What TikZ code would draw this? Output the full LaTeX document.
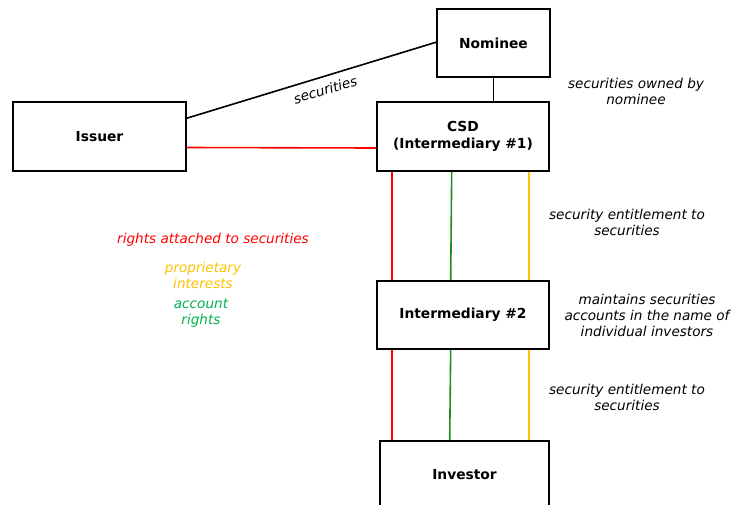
\documentclass[tikz,border=0pt]{standalone}
\usepackage{fontspec}
\setmainfont{DejaVu Sans}
\tikzset{
  box/.style = {draw, line width = 1.6pt, font = \fontsize{13.8}{17}\selectfont\bfseries, align = center, inner sep = 0pt},
  note/.style = {font = \fontsize{13.6}{16}\selectfont\itshape, align = center, inner sep = 0pt},
  link/.style = {line width = 1.6pt}
}
\definecolor{rightsred}{HTML}{FF0000}
\definecolor{propyellow}{HTML}{FFC000}
\definecolor{accgreen}{HTML}{00B050}
\definecolor{linegreen}{HTML}{1E8C1E}
\begin{document}
\begin{tikzpicture}[x = 1pt, y = -1pt]
    \clip (0, 0) rectangle (733, 504);
    \pgfmathsetmacro{\r}{15.5}; % offset of red line
    \pgfmathsetmacro{\y}{152.5}; % offset of yellow line

    \node [box, minimum width = 113, minimum height = 68] (nominee) at (493.5, 43) {Nominee};
    \node [box, minimum width = 173, minimum height = 69] (issuer) at (99.5, 136.5) {Issuer};
    \node [box, minimum width = 172, minimum height = 69] (csd) at (463, 136.5) {CSD\\(Intermediary \#1)};
    \node [box, minimum width = 172, minimum height = 68] (inter) at (463, 315) {Intermediary \#2};
    \node [box, minimum width = 169, minimum height = 68] (investor) at (464.5, 475) {Investor};

    \draw [link] (nominee) -- (nominee |- csd.north);
    \draw [link] ([yshift = -17pt]issuer.north east) -- ([yshift = -34pt]nominee.north west)
        node [pos = 0.54, sloped, below = 7pt, note] {securities};
    \draw [link, rightsred] ([yshift = -11pt]issuer.east) -- ([yshift = -11.5pt]csd.west);

    \draw [link, rightsred] ([xshift = \r pt]csd.south west) -- ([xshift = \r pt]inter.north west);
    \draw [link, linegreen] ([xshift = 75.5pt]csd.south west) -- ([xshift = 74.5pt]inter.north west);
    \draw [link, propyellow] ([xshift = \y pt]csd.south west) -- ([xshift = \y pt]inter.north west);
    \draw [link, rightsred] ([xshift = \r pt]inter.south west) -- ([xshift = 12.5pt]investor.north west);
    \draw [link, linegreen] ([xshift = 74.5pt]inter.south west) -- ([xshift = 70.5pt]investor.north west);
    \draw [link, propyellow] ([xshift = \y pt]inter.south west) -- ([xshift = 149.5pt]investor.north west);

    \node [note] (owned) at (636, 91) {securities owned by\\nominee};
    \node [note] (entitle1) at (627, 222) {security entitlement to\\securities};
    \node [note] (maintain) at (647, 315) {maintains securities\\accounts in the name of\\individual investors};
    \node [note] (entitle2) at (627, 397) {security entitlement to\\securities};

    \node [note, text = rightsred] (rights) at (213, 240) {rights attached to securities};
    \node [note, text = propyellow] (prop) at (203, 275) {proprietary\\interests};
    \node [note, text = accgreen] (account) at (201, 313) {account\\rights};
\end{tikzpicture}
\end{document}
